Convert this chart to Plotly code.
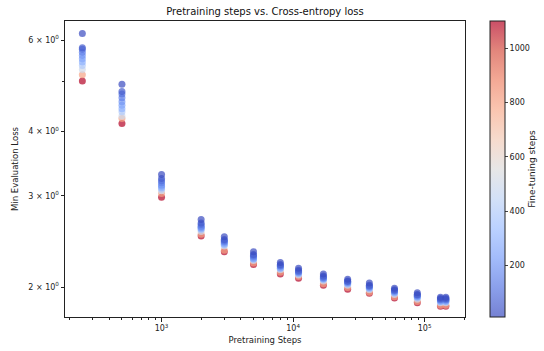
import plotly.graph_objects as go

# Pretraining checkpoints (x) and fine-tuning steps (colour)
pretrain_steps = [250, 500, 1000, 2000, 3000, 5000, 8000, 11000, 17000,
                  26000, 38000, 59000, 88000, 132000, 145000]
finetune_steps = [10, 50, 100, 150, 200, 250, 300, 400, 500, 800, 1100]

# Min evaluation loss per pretraining checkpoint, one value per fine-tuning step
loss_250 = [6.18, 5.80, 5.76, 5.68, 5.60, 5.52, 5.44, 5.36, 5.26, 5.14, 5.00]
loss_500 = [4.93, 4.77, 4.72, 4.64, 4.56, 4.49, 4.42, 4.36, 4.28, 4.23, 4.14]
loss_1000 = [3.30, 3.24, 3.21, 3.18, 3.15, 3.13, 3.11, 3.09, 3.07, 3.03, 2.98]
loss_2000 = [2.70, 2.66, 2.64, 2.62, 2.61, 2.60, 2.59, 2.58, 2.56, 2.53, 2.51]
loss_3000 = [2.50, 2.47, 2.46, 2.45, 2.44, 2.43, 2.42, 2.41, 2.40, 2.355, 2.34]
loss_5000 = [2.34, 2.31, 2.30, 2.29, 2.28, 2.27, 2.265, 2.26, 2.25, 2.225, 2.21]
loss_8000 = [2.23, 2.21, 2.20, 2.195, 2.19, 2.18, 2.175, 2.17, 2.16, 2.135, 2.12]
loss_11000 = [2.175, 2.155, 2.145, 2.14, 2.135, 2.13, 2.125, 2.12, 2.11, 2.095, 2.08]
loss_17000 = [2.12, 2.10, 2.09, 2.085, 2.08, 2.075, 2.07, 2.065, 2.055, 2.03, 2.015]
loss_26000 = [2.07, 2.055, 2.05, 2.045, 2.04, 2.035, 2.03, 2.025, 2.015, 1.995, 1.98]
loss_38000 = [2.035, 2.015, 2.01, 2.005, 2.0, 1.995, 1.99, 1.985, 1.975, 1.955, 1.945]
loss_59000 = [1.99, 1.975, 1.97, 1.965, 1.96, 1.955, 1.95, 1.945, 1.935, 1.915, 1.905]
loss_88000 = [1.95, 1.935, 1.93, 1.925, 1.92, 1.915, 1.91, 1.905, 1.895, 1.875, 1.865]
loss_132000 = [1.91, 1.90, 1.895, 1.89, 1.885, 1.88, 1.875, 1.87, 1.865, 1.845, 1.835]
loss_145000 = [1.91, 1.90, 1.895, 1.89, 1.885, 1.88, 1.875, 1.87, 1.865, 1.845, 1.835]

loss_table = [loss_250, loss_500, loss_1000, loss_2000, loss_3000, loss_5000,
              loss_8000, loss_11000, loss_17000, loss_26000, loss_38000,
              loss_59000, loss_88000, loss_132000, loss_145000]

y_tick_vals = [2, 3, 4, 6]
y_tick_text = ["2 × 10<sup>0</sup>", "3 × 10<sup>0</sup>", "4 × 10<sup>0</sup>", "6 × 10<sup>0</sup>"]
x_tick_vals = [1e3, 1e4, 1e5]
x_tick_text = ["10<sup>3</sup>", "10<sup>4</sup>", "10<sup>5</sup>"]
cbar_ticks = [200, 400, 600, 800, 1000]

coolwarm = [(59, 76, 192), (89, 119, 227), (123, 159, 249), (158, 190, 255),
            (192, 212, 245), (221, 220, 220), (242, 203, 183), (247, 172, 142),
            (238, 132, 104), (214, 82, 68), (180, 4, 38)]
colorscale = [[i / 10, "rgba(%d,%d,%d,0.7)" % c] for i, c in enumerate(coolwarm)]

# build points: longest fine-tuning runs drawn first, shortest on top
xs, ys, cs = [], [], []
for j in reversed(range(len(finetune_steps))):
    for i, ps in enumerate(pretrain_steps):
        xs.append(ps)
        ys.append(loss_table[i][j])
        cs.append(finetune_steps[j])

W, H = 544, 351
ML, MR, MT, MB = 65, 5, 21, 34
pw = W - ML - MR
font = "DejaVu Sans"
fig = go.Figure(go.Scatter(
    x=xs, y=ys, mode="markers",
    marker=dict(size=7, color=cs, colorscale=colorscale, cmin=10, cmax=1100,
                line=dict(width=0),
                colorbar=dict(
                    title=dict(text="Fine-tuning steps", side="right",
                               font=dict(family=font, size=9, color="#222")),
                    thickness=15, thicknessmode="pixels", len=1.0, lenmode="fraction",
                    x=(490 - ML) / pw, xanchor="left", xref="paper",
                    y=0.5, yanchor="middle", xpad=0, ypad=0,
                    outlinewidth=1, outlinecolor="#222",
                    tickvals=cbar_ticks, ticks="outside", ticklen=3,
                    ticksuffix="\u00a0\u00a0",
                    tickfont=dict(family=font, size=8, color="#222"))),
    showlegend=False))

minor_x = [v * 10 ** e for e in (2, 3, 4, 5) for v in range(2, 10)]
fig.update_layout(
    width=W, height=H,
    margin=dict(l=ML, r=MR, t=MT, b=MB, autoexpand=False),
    paper_bgcolor="white", plot_bgcolor="white",
    title=dict(text="Pretraining steps vs. Cross-entropy loss", x=(265 - ML) / pw, xref="paper",
               xanchor="center", y=1 - 11 / H, yref="container", yanchor="middle",
               font=dict(family=font, size=10, color="#111")),
    font=dict(family=font, size=8, color="#222"),
)
fig.update_xaxes(type="log", range=[2.266, 5.307], domain=[0, 400 / pw],
                 showgrid=False, zeroline=False,
                 showline=True, linecolor="#222", linewidth=1, mirror=True,
                 ticks="outside", ticklen=3.5, tickcolor="#222",
                 tickvals=x_tick_vals, ticktext=x_tick_text,
                 minor=dict(tickvals=minor_x, ticks="outside", ticklen=2, tickcolor="#222"),
                 title=dict(text="Pretraining Steps", font=dict(family=font, size=8.5), standoff=4),
                 tickfont=dict(family=font, size=8))
fig.update_yaxes(type="log", range=[0.2431, 0.8149], showgrid=False, zeroline=False,
                 showline=True, linecolor="#222", linewidth=1, mirror=True,
                 ticks="outside", ticklen=3.5, tickcolor="#222",
                 tickvals=y_tick_vals, ticktext=y_tick_text,
                 minor=dict(tickvals=[5], ticks="outside", ticklen=2, tickcolor="#222"),
                 title=dict(text="Min Evaluation Loss", font=dict(family=font, size=8.5), standoff=8),
                 tickfont=dict(family=font, size=8))

fig.write_html("out.html")
